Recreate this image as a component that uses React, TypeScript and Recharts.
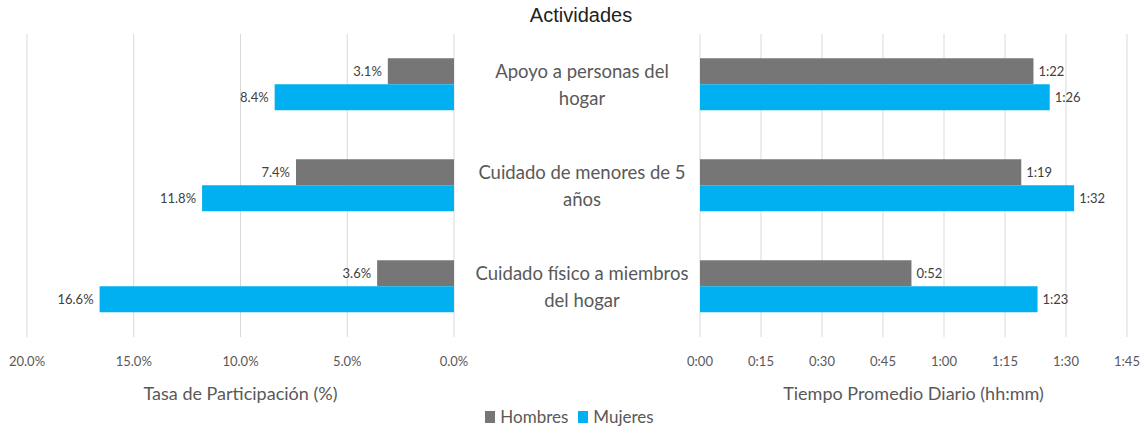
import React from "react";
import { BarChart, Bar, XAxis, YAxis, CartesianGrid, LabelList, Label } from "recharts";

const categories = [
  "Apoyo a personas del hogar",
  "Cuidado de menores de 5 años",
  "Cuidado físico a miembros del hogar",
];
const seriesNames = ["Hombres", "Mujeres"];
const seriesColors = ["#767676", "#00B0F0"];
const tasaHombres = [3.1, 7.4, 3.6];
const tasaMujeres = [8.4, 11.8, 16.6];
const tiempoHombres = [82, 79, 52]; // minutes (1:22, 1:19, 0:52)
const tiempoMujeres = [86, 92, 83]; // minutes (1:26, 1:32, 1:23)
const tasaTicks = [0, 5, 10, 15, 20];
const tiempoTicks = [0, 15, 30, 45, 60, 75, 90, 105];
const title = "Actividades";
const tasaTitle = "Tasa de Participación (%)";
const tiempoTitle = "Tiempo Promedio Diario (hh:mm)";

const FONT = "Lato, 'Open Sans', sans-serif";
const TEXT = "#595959";
const GRID = "#d9d9d9";

const tasaData = categories.map((c, i) => ({ cat: c, h: tasaHombres[i], m: tasaMujeres[i] }));
const tiempoData = categories.map((c, i) => ({ cat: c, h: tiempoHombres[i], m: tiempoMujeres[i] }));

const fmtPct = (v: number) => `${v.toFixed(1)}%`;
const fmtTime = (v: number) => `${Math.floor(v / 60)}:${String(Math.round(v % 60)).padStart(2, "0")}`;

const wrap = (s: string, max: number) => {
  const words = s.split(" ");
  const lines: string[] = [];
  let cur = "";
  for (const w of words) {
    const next = cur ? cur + " " + w : w;
    if (next.length > max && cur) {
      lines.push(cur);
      cur = w;
    } else cur = next;
  }
  if (cur) lines.push(cur);
  return lines;
};

const LeftLabel = (p: any) => {
  const { x, y, width, height, value } = p;
  const left = Math.min(x, x + width);
  return (
    <text x={left - 6} y={y + height / 2} textAnchor="end" dominantBaseline="central"
      fontFamily={FONT} fontSize={13} fill="#404040">
      {fmtPct(value)}
    </text>
  );
};

const RightLabel = (p: any) => {
  const { x, y, width, height, value } = p;
  const right = Math.max(x, x + width);
  return (
    <text x={right + 5} y={y + height / 2} textAnchor="start" dominantBaseline="central"
      fontFamily={FONT} fontSize={13} fill="#404040">
      {fmtTime(value)}
    </text>
  );
};

const CatTick = (p: any) => {
  const { x, y, payload } = p;
  const lines = wrap(payload.value, 25);
  const lh = 27;
  const start = y - ((lines.length - 1) * lh) / 2;
  return (
    <text textAnchor="middle" fontFamily={FONT} fontSize={18.5} fill={TEXT}>
      {lines.map((l, i) => (
        <tspan key={i} x={x - 118} y={start + i * lh} dominantBaseline="central">{l}</tspan>
      ))}
    </text>
  );
};

export default function App() {
  return (
    <div style={{ position: "absolute", left: 0, top: 0, width: 1147, height: 434, background: "#fff" }}>
      <div style={{ position: "absolute", left: 0, top: 4, width: 1162, textAlign: "center",
        fontFamily: "'Liberation Sans', Arial, sans-serif", fontSize: 20, color: "#222" }}>
        {title}
      </div>
      <div style={{ position: "absolute", left: 0, top: 0 }}>
        <BarChart layout="vertical" width={470} height={434} data={tasaData}
          margin={{ top: 34, right: 16, bottom: 0, left: 27 }} barCategoryGap="24%" barGap={0}>
          <CartesianGrid horizontal={false} stroke={GRID} />
          <XAxis type="number" domain={[0, 20]} reversed ticks={tasaTicks} tickFormatter={fmtPct}
            height={97} tickLine={false} axisLine={false} tickSize={0} tickMargin={20}
            tick={{ fontFamily: FONT, fontSize: 13, fill: TEXT }} interval={0}>
            <Label value={tasaTitle} position="insideBottom" offset={34}
              style={{ fontFamily: FONT, fontSize: 18, fill: TEXT }} />
          </XAxis>
          <YAxis type="category" dataKey="cat" hide />
          <Bar dataKey="h" name={seriesNames[0]} fill={seriesColors[0]} isAnimationActive={false}>
            <LabelList dataKey="h" content={LeftLabel} />
          </Bar>
          <Bar dataKey="m" name={seriesNames[1]} fill={seriesColors[1]} isAnimationActive={false}>
            <LabelList dataKey="m" content={LeftLabel} />
          </Bar>
        </BarChart>
      </div>
      <div style={{ position: "absolute", left: 460, top: 0 }}>
        <BarChart layout="vertical" width={687} height={434} data={tiempoData}
          margin={{ top: 34, right: 20, bottom: 0, left: 0 }} barCategoryGap="24%" barGap={0}>
          <CartesianGrid horizontal={false} stroke={GRID} />
          <XAxis type="number" domain={[0, 105]} ticks={tiempoTicks} tickFormatter={fmtTime}
            height={97} tickLine={false} axisLine={false} tickSize={0} tickMargin={20}
            tick={{ fontFamily: FONT, fontSize: 13, fill: TEXT }} interval={0}>
            <Label value={tiempoTitle} position="insideBottom" offset={34}
              style={{ fontFamily: FONT, fontSize: 18, fill: TEXT }} />
          </XAxis>
          <YAxis type="category" dataKey="cat" width={240} axisLine={false} tickLine={false}
            tickSize={0} tickMargin={0} tick={CatTick} interval={0} />
          <Bar dataKey="h" name={seriesNames[0]} fill={seriesColors[0]} isAnimationActive={false}>
            <LabelList dataKey="h" content={RightLabel} />
          </Bar>
          <Bar dataKey="m" name={seriesNames[1]} fill={seriesColors[1]} isAnimationActive={false}>
            <LabelList dataKey="m" content={RightLabel} />
          </Bar>
        </BarChart>
      </div>
      <div style={{ position: "absolute", left: 0, top: 406, width: 1147, display: "flex",
        justifyContent: "center", fontFamily: FONT, fontSize: 17, color: TEXT }}>
        <div style={{ display: "flex", alignItems: "center", gap: 10, marginLeft: -8 }}>
          {seriesNames.map((n, i) => (
            <div key={n} style={{ display: "flex", alignItems: "center", gap: 5 }}>
              <span style={{ display: "inline-block", width: 10, height: 12, background: seriesColors[i] }} />
              <span>{n}</span>
            </div>
          ))}
        </div>
      </div>
    </div>
  );
}
